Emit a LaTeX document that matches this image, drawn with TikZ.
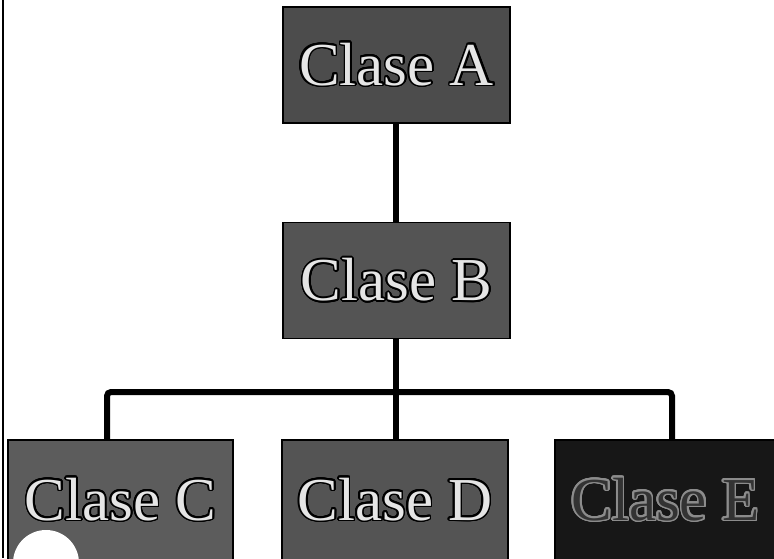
\documentclass[tikz,border=0pt]{standalone}
\usepackage{fontspec}
\setmainfont{Liberation Serif}
\usepackage{contour}
\contourlength{1.6pt}
\contournumber{24}
\definecolor{labelcol}{gray}{0.9}
\definecolor{boxA}{gray}{0.30}
\definecolor{boxB}{gray}{0.33}
\definecolor{boxC}{gray}{0.36}
\definecolor{boxD}{gray}{0.33}
\definecolor{boxE}{gray}{0.09}
\begin{document}
\begin{tikzpicture}[x=1pt,y=-1pt,
  box/.style={draw=black,line width=1.5pt,fill=#1,minimum height=116pt,
    inner sep=0pt,text=labelcol,font=\fontsize{61}{61}\selectfont},
  conn/.style={line width=6pt,rounded corners=4pt}]
\useasboundingbox (0,0) rectangle (774,558);
\fill[white] (0,0) rectangle (774,558);
\node[box=boxA,minimum width=227pt] (A) at (396.5,65) {\contour{black}{Clase A}};
\node[box=boxB,minimum width=227pt] (B) at (396.5,280.5) {\contour{black}{Clase B}};
\node[box=boxC,minimum width=225pt,minimum height=120pt] (C) at (120.5,500) {\contour{black}{Clase C}};
\node[box=boxD,minimum width=226pt,minimum height=120pt] (D) at (395,500) {\contour{black}{Clase D}};
\node[box=boxE,minimum width=221pt,minimum height=120pt,text=black!80] (E) at (665.5,500) {\contour{black!45}{Clase E}};
\coordinate (j) at (396,392);
\draw[conn] (A.south -| j) -- (B.north -| j);
\draw[conn] (B.south -| j) -- (j);
\draw[conn] ([xshift=-13.5pt]C.north) |- (j) -| ([xshift=6.5pt]E.north);
\draw[conn] (j) -- (D.north -| j);
\fill[white] (46,563) circle (33);
\draw[line width=2pt] (3,0) -- (3,558);
\end{tikzpicture}
\end{document}
